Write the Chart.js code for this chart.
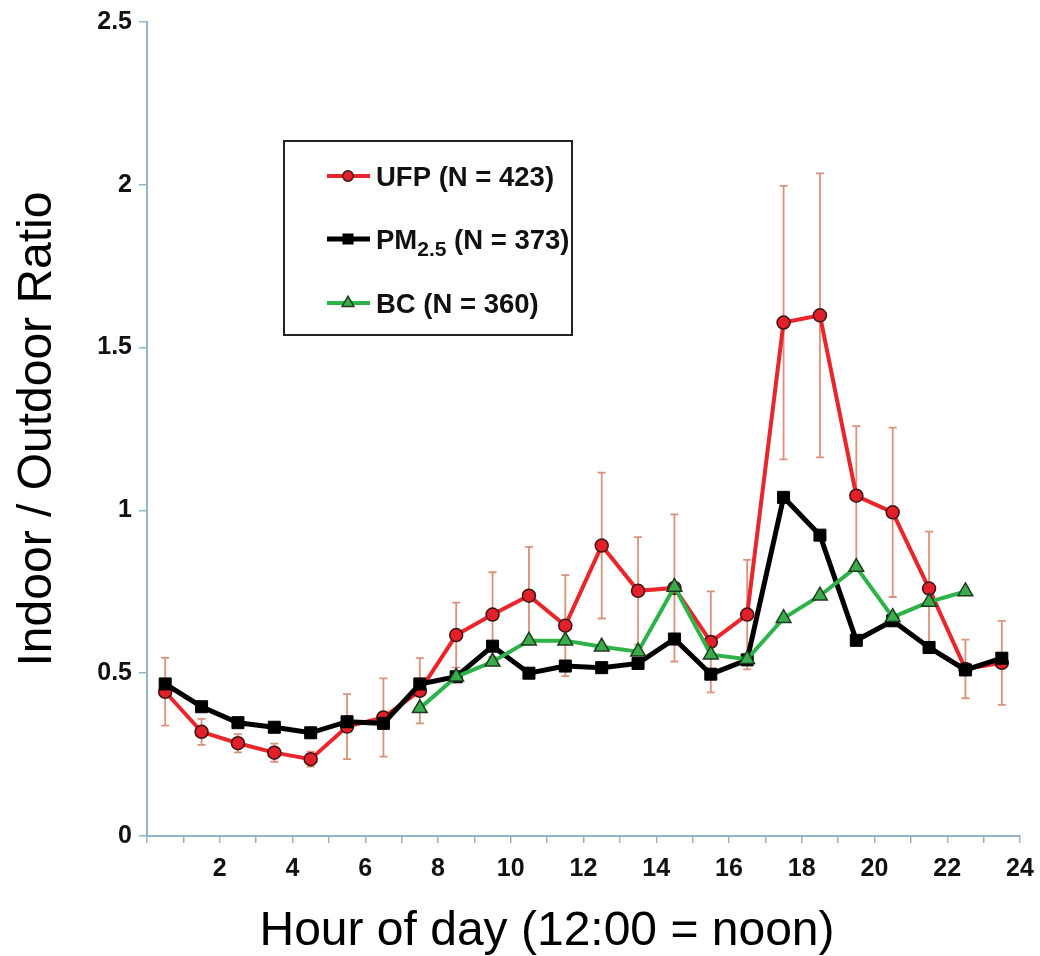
<!DOCTYPE html>
<html>
<head>
<meta charset="utf-8">
<script src="https://cdn.jsdelivr.net/npm/chart.js@4.4.1/dist/chart.umd.min.js"></script>
<style>
  html, body { margin: 0; padding: 0; background: #fff; }
  #wrap { width: 1040px; height: 956px; }
</style>
</head>
<body>
<div id="wrap"><canvas id="ratioChart" width="1040" height="956"></canvas></div>
<script>
// hourly means, plotted at the middle of each hour
const hours = [0.5, 1.5, 2.5, 3.5, 4.5, 5.5, 6.5, 7.5, 8.5, 9.5, 10.5, 11.5,
               12.5, 13.5, 14.5, 15.5, 16.5, 17.5, 18.5, 19.5, 20.5, 21.5, 22.5, 23.5];

const ufpRatio = [0.443, 0.320, 0.285, 0.256, 0.236, 0.336, 0.364, 0.446, 0.617, 0.680, 0.738, 0.646,
                  0.892, 0.753, 0.762, 0.596, 0.680, 1.577, 1.599, 1.045, 0.994, 0.760, 0.513, 0.532];
// half length of the UFP error bars
const ufpErr = [0.104, 0.040, 0.028, 0.028, 0.023, 0.100, 0.120, 0.100, 0.100, 0.130, 0.150, 0.155,
                0.224, 0.165, 0.226, 0.155, 0.168, 0.420, 0.436, 0.214, 0.260, 0.175, 0.090, 0.129];

const pm25Ratio = [0.467, 0.397, 0.348, 0.334, 0.317, 0.351, 0.346, 0.467, 0.489, 0.583, 0.500, 0.522,
                   0.517, 0.530, 0.605, 0.497, 0.541, 1.040, 0.924, 0.601, 0.661, 0.579, 0.510, 0.546];

const bcRatio = [null, null, null, null, null, null, null, 0.392, 0.489, 0.535, 0.600, 0.600,
                 0.581, 0.566, 0.765, 0.557, 0.543, 0.669, 0.738, 0.826, 0.672, 0.719, 0.751, null];

const xTickLabels = [2, 4, 6, 8, 10, 12, 14, 16, 18, 20, 22, 24];
const yTickLabels = [0, 0.5, 1, 1.5, 2, 2.5];

const FONT = "'Liberation Sans', Arial, sans-serif";
const AXIS_COLOR = '#92b6cb';

const toPoints = (vals) => hours.map((h, i) => ({ x: h, y: vals[i] }));

/**
 * UFP 오차막대 (점/선 아래에 그림)
 */
const errorBarPlugin = {
    id: 'errorBars',
    beforeDatasetsDraw(chart) {
        const { ctx, scales: { x, y } } = chart;
        ctx.save();
        ctx.strokeStyle = '#dc917b';
        ctx.lineWidth = 1.8;
        hours.forEach((h, i) => {
            const px = x.getPixelForValue(h);
            const top = y.getPixelForValue(ufpRatio[i] + ufpErr[i]);
            const bot = y.getPixelForValue(ufpRatio[i] - ufpErr[i]);
            ctx.beginPath();
            ctx.moveTo(px, top); ctx.lineTo(px, bot);
            ctx.moveTo(px - 4, top); ctx.lineTo(px + 4, top);
            ctx.moveTo(px - 4, bot); ctx.lineTo(px + 4, bot);
            ctx.stroke();
        });
        ctx.restore();
    }
};

/**
 * 범례 박스 + x축 제목
 */
const boxLegendPlugin = {
    id: 'boxLegend',
    afterDraw(chart) {
        const { ctx } = chart;
        const box = { left: 284, top: 141, width: 288, height: 194 };
        ctx.save();
        ctx.fillStyle = '#fff';
        ctx.fillRect(box.left, box.top, box.width, box.height);
        ctx.strokeStyle = '#222';
        ctx.lineWidth = 2;
        ctx.strokeRect(box.left, box.top, box.width, box.height);

        const rows = [
            { ds: 0, y: 176, parts: [['UFP (N = 423)', 0]] },
            { ds: 1, y: 239, parts: [['PM', 0], ['2.5', 1], [' (N = 373)', 0]] },
            { ds: 2, y: 303, parts: [['BC (N = 360)', 0]] }
        ];
        rows.forEach(row => {
            const ds = chart.data.datasets[row.ds];
            ctx.strokeStyle = ds.borderColor;
            ctx.lineWidth = ds.borderWidth;
            ctx.beginPath();
            ctx.moveTo(327, row.y); ctx.lineTo(370, row.y);
            ctx.stroke();
            ctx.fillStyle = ds.pointBackgroundColor;
            ctx.strokeStyle = ds.pointBorderColor;
            ctx.lineWidth = 1.5;
            Chart.helpers.drawPoint(ctx, {
                pointStyle: ds.pointStyle, radius: ds.pointRadius * 0.8, rotation: 0, borderWidth: 1.5
            }, 348, row.y);

            let tx = 376;
            ctx.fillStyle = '#111';
            ctx.textBaseline = 'alphabetic';
            row.parts.forEach(([txt, sub]) => {
                ctx.font = sub ? `bold 21px ${FONT}` : `bold 27.5px ${FONT}`;
                ctx.fillText(txt, tx, row.y + (sub ? 17 : 10));
                tx += ctx.measureText(txt).width;
            });
        });

        // x축 제목
        ctx.fillStyle = '#000';
        ctx.font = `48px ${FONT}`;
        ctx.textAlign = 'center';
        ctx.textBaseline = 'middle';
        ctx.fillText('Hour of day (12:00 = noon)', 547, 932);
        ctx.restore();
    }
};

let ratioChart = new Chart(document.getElementById('ratioChart'), {
    type: 'line',
    data: {
        datasets: [{
            label: 'UFP (N = 423)',
            data: toPoints(ufpRatio),
            borderColor: '#e8262b',
            borderWidth: 4,
            pointStyle: 'circle',
            pointRadius: 6.5,
            pointBackgroundColor: '#e3202a',
            pointBorderColor: '#3a1414',
            pointBorderWidth: 1.5,
            order: 3
        }, {
            label: 'PM2.5 (N = 373)',
            data: toPoints(pm25Ratio),
            borderColor: '#000',
            borderWidth: 5,
            pointStyle: 'rect',
            pointRadius: 8.5,
            pointBackgroundColor: '#000',
            pointBorderColor: '#000',
            pointBorderWidth: 1,
            order: 2
        }, {
            label: 'BC (N = 360)',
            data: toPoints(bcRatio),
            borderColor: '#2db34a',
            borderWidth: 4,
            pointStyle: 'triangle',
            pointRadius: 8.5,
            pointBackgroundColor: '#3aac4c',
            pointBorderColor: '#1d3a1f',
            pointBorderWidth: 1.5,
            spanGaps: false,
            order: 1
        }]
    },
    options: {
        responsive: false,
        animation: false,
        layout: { padding: { left: 0, top: 22, right: 20, bottom: 0 } },
        plugins: {
            legend: { display: false },
            tooltip: { enabled: false }
        },
        elements: { line: { tension: 0 } },
        scales: {
            x: {
                type: 'linear',
                min: 0,
                max: 24,
                afterFit: (s) => { s.height = 120; s.paddingRight = 0; s.paddingLeft = 0; },
                border: { color: AXIS_COLOR, width: 2 },
                grid: { drawOnChartArea: false, color: AXIS_COLOR, tickLength: 7, lineWidth: 1.5 },
                ticks: {
                    stepSize: 1,
                    autoSkip: false,
                    maxRotation: 0,
                    padding: 11,
                    color: '#111',
                    font: { family: FONT, size: 25, weight: 'bold' },
                    callback: (v) => xTickLabels.includes(v) ? String(v) : ''
                }
            },
            y: {
                min: 0,
                max: 2.5,
                afterFit: (s) => { s.width = 147; },
                border: { color: AXIS_COLOR, width: 2 },
                grid: { drawOnChartArea: false, color: AXIS_COLOR, tickLength: 8, lineWidth: 1.5 },
                ticks: {
                    stepSize: 0.5,
                    padding: 7,
                    color: '#111',
                    font: { family: FONT, size: 25, weight: 'bold' },
                    callback: (v) => yTickLabels.includes(v) ? String(v) : ''
                },
                title: {
                    display: true,
                    text: 'Indoor / Outdoor Ratio',
                    color: '#000',
                    font: { family: FONT, size: 48 },
                    padding: { top: 9, bottom: 0 }
                }
            }
        }
    },
    plugins: [errorBarPlugin, boxLegendPlugin]
});
</script>
</body>
</html>
